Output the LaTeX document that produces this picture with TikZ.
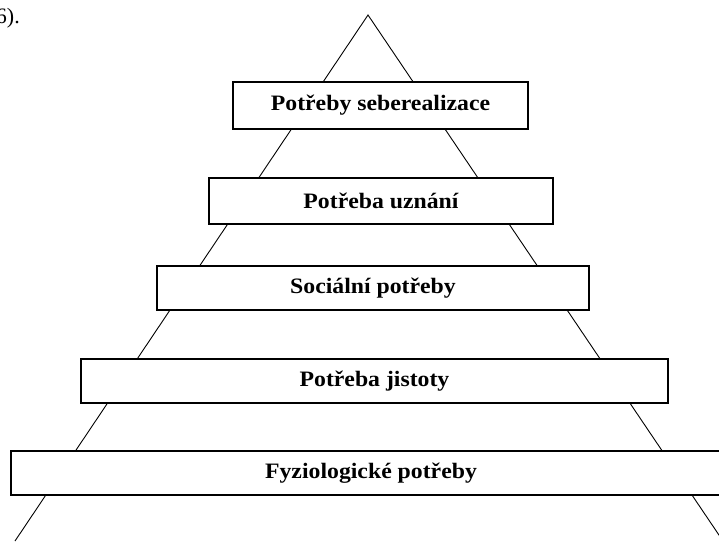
\documentclass[tikz,border=0pt]{standalone}
\usepackage{fontspec}
\setmainfont{Liberation Serif}
\newfontfamily\lvlfont{Liberation Serif}[FakeStretch=1.08]
\begin{document}
\begin{tikzpicture}[x=1pt,y=-1pt,
  level/.style={draw, line width=1.3pt, fill=white, inner sep=0pt,
    font=\lvlfont\bfseries\fontsize{22}{26}\selectfont},
  side/.style={line width=0.9pt}]
\useasboundingbox (0,0) rectangle (719,541);
\coordinate (apex) at (368,15);
\coordinate (bl) at (15,541);
\coordinate (br) at (723,541);
\draw[side] (bl) -- (apex) -- (br);
\node[level, minimum width=295pt, minimum height=47pt] (l1) at (380.5,105.5) {Potřeby seberealizace};
\node[level, minimum width=344pt, minimum height=46pt] (l2) at (381,201) {Potřeba uznání};
\node[level, minimum width=432pt, minimum height=44pt] (l3) at (373,288) {Sociální potřeby};
\node[level, minimum width=587pt, minimum height=44pt] (l4) at (374.5,381) {Potřeba jistoty};
\node[level, minimum width=720pt, minimum height=44pt] (l5) at (371,473) {Fyziologické potřeby};
\node[anchor=base east, inner sep=0pt, font=\fontsize{22}{26}\selectfont] (ref) at (20,23) {6).};
\end{tikzpicture}
\end{document}
